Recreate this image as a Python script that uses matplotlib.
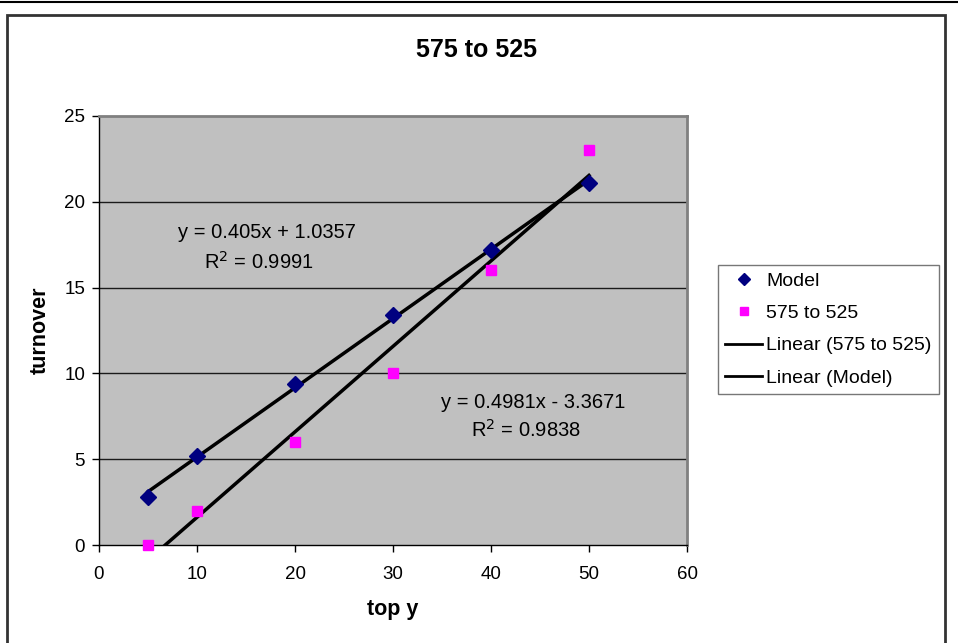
import numpy as np
import matplotlib
matplotlib.use("Agg")
import matplotlib.pyplot as plt
from matplotlib.lines import Line2D
from matplotlib.patches import Rectangle

plt.rcParams['font.family'] = ['Liberation Sans', 'DejaVu Sans']

x_vals = [5, 10, 20, 30, 40, 50]
model_vals = [2.8, 5.2, 9.4, 13.4, 17.2, 21.1]
s575_vals = [0, 2, 6, 10, 16, 23]

title = "575 to 525"
xlabel = "top y"
ylabel = "turnover"
xticks = [0, 10, 20, 30, 40, 50, 60]
yticks = [0, 5, 10, 15, 20, 25]

W, H = 958, 643
fig = plt.figure(figsize=(W / 100, H / 100), dpi=100)

# figure decorations: top line and chart border
fig.add_artist(Line2D([0, 1], [1 - 1.5 / H, 1 - 1.5 / H], transform=fig.transFigure,
                      color='black', lw=1.5))
fig.add_artist(Rectangle((7 / W, -0.05), (945 - 7) / W, (1 - 15 / H) + 0.05,
                         transform=fig.transFigure, fill=False,
                         edgecolor='#333333', lw=2))

ax = fig.add_axes([99 / W, 1 - 545 / H, (687 - 99) / W, (545 - 116) / H])
ax.set_facecolor('#C0C0C0')
ax.set_xlim(0, 60)
ax.set_ylim(0, 25)
ax.set_xticks(xticks)
ax.set_yticks(yticks)
ax.tick_params(labelsize=13.5, direction='out', length=5, width=1, colors='black')
ax.tick_params(axis='x', pad=10)
ax.tick_params(axis='y', pad=5)

for yv in yticks[1:-1]:
    ax.axhline(yv, color='#1a1a1a', lw=1, zorder=1)

for side in ['top', 'right']:
    ax.spines[side].set_color('#808080')
    ax.spines[side].set_linewidth(2)
for side in ['left', 'bottom']:
    ax.spines[side].set_color('black')
    ax.spines[side].set_linewidth(1)

x = np.array(x_vals, dtype=float)
m = np.array(model_vals, dtype=float)
s = np.array(s575_vals, dtype=float)

# Linear fits
pm = np.polyfit(x, m, 1)
ps = np.polyfit(x, s, 1)

xx = np.linspace(x.min(), x.max(), 200)
l1, = ax.plot(xx, np.polyval(ps, xx), color='black', lw=2.5, zorder=3)
l2, = ax.plot(xx, np.polyval(pm, xx), color='black', lw=2.5, zorder=3)

h1, = ax.plot(x, m, linestyle='none', marker='D', color='#000080', markersize=8, zorder=4)
h2, = ax.plot(x, s, linestyle='none', marker='s', color='#FF00FF', markersize=7.5, zorder=4,
              clip_on=False)

# equation annotations (figure coordinates)
fig.text(267 / W, 1 - 232 / H, "y = 0.405x + 1.0357", ha='center', va='center', fontsize=14.5)
fig.text(259 / W, 1 - 262 / H, "R$^2$ = 0.9991", ha='center', va='center', fontsize=14.5)
fig.text(533 / W, 1 - 402 / H, "y = 0.4981x - 3.3671", ha='center', va='center', fontsize=14.5)
fig.text(526 / W, 1 - 430 / H, "R$^2$ = 0.9838", ha='center', va='center', fontsize=14.5)

fig.text(477 / W, 1 - 50 / H, title, ha='center', va='center', fontsize=18, fontweight='bold')
fig.text(393 / W, 1 - 609 / H, xlabel, ha='center', va='center', fontsize=15.5, fontweight='bold')
fig.text(40 / W, 1 - 330 / H, ylabel, ha='center', va='center', fontsize=15.5, fontweight='bold',
         rotation=90)

leg = fig.legend([h1, h2, l1, l2], ["Model", "575 to 525", "Linear (575 to 525)", "Linear (Model)"],
                 loc='upper left', bbox_to_anchor=(718 / W, 1 - 265 / H),
                 fontsize=14, frameon=True, fancybox=False, edgecolor='#555555',
                 handlelength=1.9, handletextpad=0.2, borderpad=0.38, labelspacing=0.75,
                 borderaxespad=0, markerscale=0.8)
leg.get_frame().set_linewidth(1)
for lh in leg.legend_handles[2:]:
    lh.set_linewidth(2)

fig.savefig("out.png", dpi=100, facecolor='white')
